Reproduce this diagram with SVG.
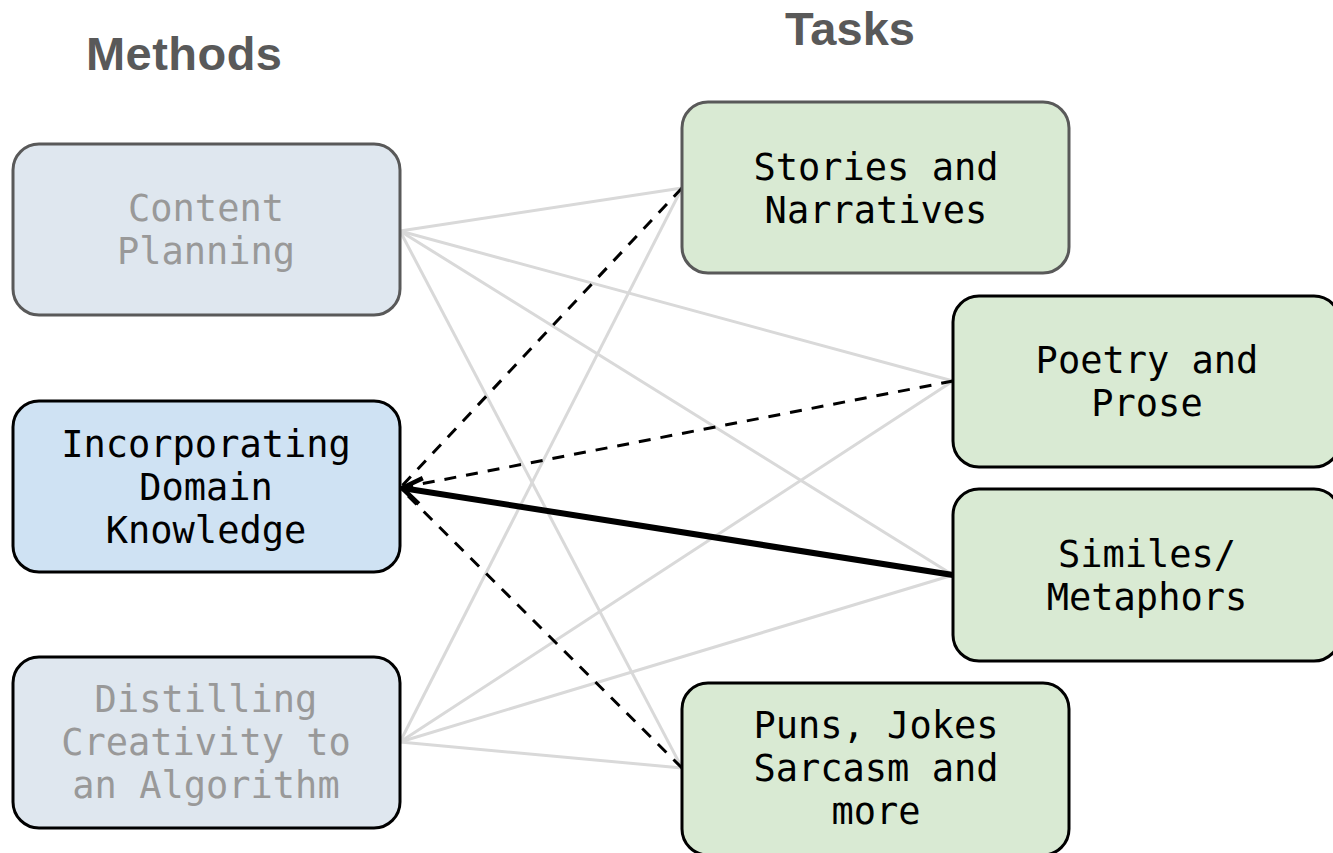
<svg xmlns="http://www.w3.org/2000/svg" width="1333" height="853" viewBox="0 0 1333 853">
<style>
.title{font-family:"Liberation Sans",Arial,sans-serif;font-weight:bold;font-size:47px;fill:#595959}
.lbl{font-family:"DejaVu Sans Mono","Liberation Mono",monospace;font-size:37px;text-anchor:middle;fill:#000}
.dim{fill:#999999}
.box{stroke-width:3}
.m-dim{fill:#dfe7ef;stroke:#595959}
.m-dark{stroke:#000}
.t-gray{fill:#d9ead3;stroke:#595959}
.t-dark{fill:#d9ead3;stroke:#000}
.gray{stroke:#d9d9d9;stroke-width:3;fill:none}
.dash{stroke:#000;stroke-width:3;stroke-dasharray:12 10;fill:none}
.thick{stroke:#000;stroke-width:6;fill:none}
</style>
<defs>
<marker id="arr" markerUnits="userSpaceOnUse" markerWidth="30" markerHeight="30" viewBox="-25 -15 30 30" refX="0" refY="0" orient="auto">
<path d="M-19,-13 L0,0 L-19,13" fill="none" stroke="#000" stroke-width="4.5"/>
</marker>
</defs>
<rect width="1333" height="853" fill="#ffffff"/>
<text class="title" x="86" y="70" textLength="196">Methods</text>
<text class="title" x="785" y="45" textLength="130">Tasks</text>
<g id="connectors">
<line class="gray" x1="400" y1="231" x2="682" y2="188"/>
<line class="gray" x1="400" y1="231" x2="953" y2="381"/>
<line class="gray" x1="400" y1="231" x2="953" y2="575"/>
<line class="gray" x1="400" y1="231" x2="682" y2="768"/>
<line class="gray" x1="400" y1="742" x2="682" y2="188"/>
<line class="gray" x1="400" y1="742" x2="953" y2="381"/>
<line class="gray" x1="400" y1="742" x2="953" y2="575"/>
<line class="gray" x1="400" y1="742" x2="682" y2="768"/>
<line class="dash" x1="682" y1="188" x2="400" y2="488"/>
<line class="dash" x1="953" y1="381" x2="400" y2="488"/>
<line class="dash" x1="682" y1="768" x2="400" y2="488"/>
<line class="thick" x1="953" y1="575" x2="402" y2="488" marker-end="url(#arr)"/>
</g>
<g id="content-planning">
<rect class="box m-dim" x="13" y="144" width="387" height="171" rx="26"/>
<text class="lbl dim" x="206" y="221">Content</text>
<text class="lbl dim" x="206" y="264">Planning</text>
</g>
<g id="incorporating-domain-knowledge">
<rect class="box m-dark" x="13" y="401" width="387" height="171" rx="26" fill="#cfe2f3"/>
<text class="lbl" x="206" y="457">Incorporating</text>
<text class="lbl" x="206" y="500">Domain</text>
<text class="lbl" x="206" y="543">Knowledge</text>
</g>
<g id="distilling-creativity">
<rect class="box m-dim" x="13" y="657" width="387" height="171" rx="26" style="stroke:#000"/>
<text class="lbl dim" x="206" y="712">Distilling</text>
<text class="lbl dim" x="206" y="755">Creativity to</text>
<text class="lbl dim" x="206" y="798">an Algorithm</text>
</g>
<g id="stories-narratives">
<rect class="box t-gray" x="682" y="102" width="387" height="171" rx="26"/>
<text class="lbl" x="876" y="180">Stories and</text>
<text class="lbl" x="876" y="223">Narratives</text>
</g>
<g id="poetry-prose">
<rect class="box t-dark" x="953" y="296" width="387" height="171" rx="26"/>
<text class="lbl" x="1147" y="373">Poetry and</text>
<text class="lbl" x="1147" y="416">Prose</text>
</g>
<g id="similes-metaphors">
<rect class="box t-dark" x="953" y="489" width="387" height="172" rx="26"/>
<text class="lbl" x="1147" y="567">Similes/</text>
<text class="lbl" x="1147" y="610">Metaphors</text>
</g>
<g id="puns-jokes">
<rect class="box t-dark" x="682" y="683" width="387" height="172" rx="26"/>
<text class="lbl" x="876" y="738">Puns, Jokes</text>
<text class="lbl" x="876" y="781">Sarcasm and</text>
<text class="lbl" x="876" y="824">more</text>
</g>
</svg>
